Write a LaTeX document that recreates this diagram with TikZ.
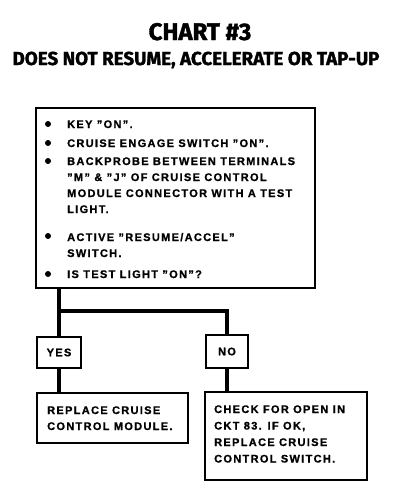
\documentclass[tikz,border=0pt]{standalone}
\usepackage{fontspec}
\setmainfont{Liberation Sans}[LetterSpace=12, BoldFont=Liberation Sans Bold, BoldFeatures={FakeBold=1}]
\newfontfamily\titlefont{Fira Sans}[BoldFeatures={FakeBold=1.5}]
\usetikzlibrary{positioning}
\tikzset{
  chartbox/.style={draw, line width=1.6pt, inner sep=0pt},
  answerbox/.style={draw, line width=1.6pt, inner sep=0pt, font=\fontsize{11}{14}\selectfont\bfseries},
  link/.style={line width=4.5pt},
  bodytext/.style={anchor=base west, inner sep=0pt, align=left, font=\fontsize{11}{16}\selectfont\bfseries},
  dot/.style={circle, fill, inner sep=0pt, minimum size=6pt}
}
\begin{document}
\begin{tikzpicture}[x=1pt, y=-1pt]
  \useasboundingbox (0,0) rectangle (416,504);

  \node[inner sep=0pt, anchor=base, font=\titlefont\bfseries\fontsize{24}{26}\selectfont] (title) at (200,40) {CHART \#3};
  \node[inner sep=0pt, anchor=base, font=\titlefont\bfseries\fontsize{18.8}{20}\selectfont] (subtitle) at (196,65) {DOES NOT RESUME, ACCELERATE OR TAP-UP};

  \node[chartbox, minimum width=279pt, minimum height=180pt] (check) at (175.5,198) {};
  \node[dot] (dota) at (48,124) {};
  \node[dot] (dotb) at (48,143) {};
  \node[dot] (dotc) at (48,161) {};
  \node[dot] (dotd) at (48,236) {};
  \node[dot] (dote) at (48,274) {};
  \node[bodytext] (itema) at (67,128) {KEY "ON".};
  \node[bodytext] (itemb) at (67,147) {CRUISE ENGAGE SWITCH "ON".};
  \node[bodytext] (itemc) at (67,213) {BACKPROBE BETWEEN TERMINALS\\"M" \& "J" OF CRUISE CONTROL\\MODULE CONNECTOR WITH A TEST\\LIGHT.};
  \node[bodytext] (itemd) at (67,257) {ACTIVE "RESUME/ACCEL"\\SWITCH.};
  \node[bodytext] (iteme) at (67,278) {IS TEST LIGHT "ON"?};

  \node[answerbox, minimum width=44pt, minimum height=31pt] (yes) at (59,352.5) {YES};
  \node[answerbox, minimum width=42pt, minimum height=33pt] (no) at (227,351.5) {NO};

  \node[chartbox, minimum width=151pt, minimum height=50pt] (replace) at (112.5,418) {};
  \node[bodytext] (replacetext) at (47,430) {REPLACE CRUISE\\CONTROL MODULE.};
  \node[chartbox, minimum width=162pt, minimum height=88pt] (ckt) at (286,436) {};
  \node[bodytext, font=\fontsize{11}{16.5}\selectfont\bfseries] (ckttext) at (214,462.5) {CHECK FOR OPEN IN\\CKT 83. IF OK,\\REPLACE CRUISE\\CONTROL SWITCH.};

  \coordinate (fork) at (59,311);
  \draw[link] (check.south -| yes.north) -- (yes.north);
  \draw[link] (fork) -| (no.north);
  \draw[link] (yes.south) -- (yes.south |- replace.north);
  \draw[link] (no.south) -- (no.south |- ckt.north);
\end{tikzpicture}
\end{document}
